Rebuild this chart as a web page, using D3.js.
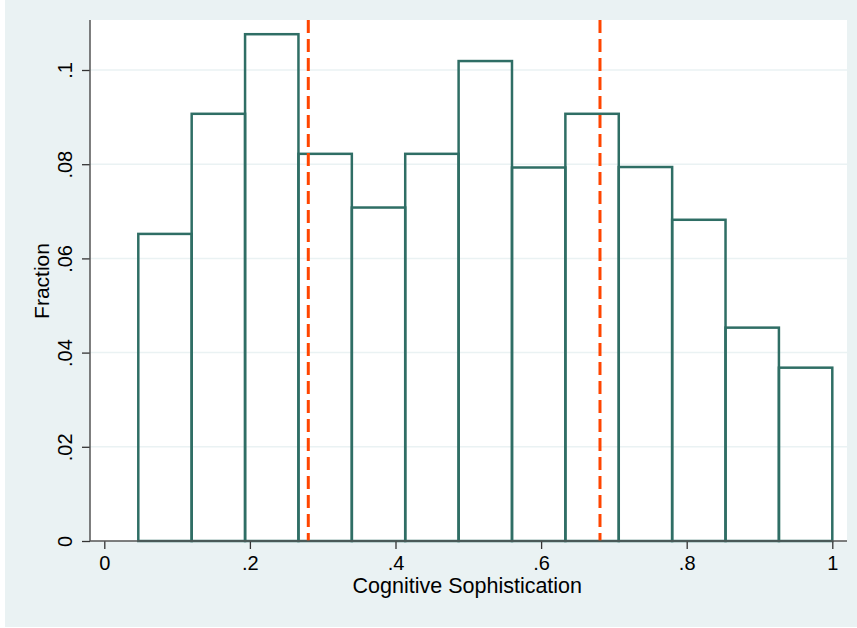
<!DOCTYPE html>
<html>
<head>
<meta charset="utf-8">
<script src="https://cdn.jsdelivr.net/npm/d3@7"></script>
<style>
  html, body { margin: 0; padding: 0; background: #ffffff; }
  svg { display: block; }
  text { font-family: "Liberation Sans", Arial, sans-serif; fill: #000; }
</style>
</head>
<body>
<svg id="chart" width="857" height="628"></svg>
<script>
// ---- data ----
const binStart = 0.0467;          // left edge of first bin
const binEnd = 1.0;               // right edge of last bin
const fractions = [0.0652, 0.0907, 0.1076, 0.0822, 0.0708, 0.0822, 0.1019,
                   0.0793, 0.0907, 0.0794, 0.0682, 0.0453, 0.0368];
const refLines = [0.2802, 0.6809];
const xTicks = [0, 0.2, 0.4, 0.6, 0.8, 1];
const xTickLabels = ["0", ".2", ".4", ".6", ".8", "1"];
const yTicks = [0, 0.02, 0.04, 0.06, 0.08, 0.1];
const yTickLabels = ["0", ".02", ".04", ".06", ".08", ".1"];
const xTitle = "Cognitive Sophistication";
const yTitle = "Fraction";

// ---- layout ----
const svg = d3.select("#chart");
const plot = { left: 90, right: 847, top: 20, bottom: 541 };
const x = d3.scaleLinear().domain([0, 1]).range([104.3, 832.3]);
const y = d3.scaleLinear().domain([0, 0.1]).range([541, 70]);
const binW = (binEnd - binStart) / fractions.length;
const bins = fractions.map((f, i) => ({ x0: binStart + i * binW, x1: binStart + (i + 1) * binW, v: f }));

// outer background
svg.append("rect").attr("x", 5).attr("y", 0).attr("width", 852).attr("height", 627).attr("fill", "#EAF2F3");
// plot region
svg.append("rect").attr("x", plot.left).attr("y", plot.top)
  .attr("width", plot.right - plot.left).attr("height", plot.bottom - plot.top).attr("fill", "#ffffff");

// gridlines
svg.append("g").selectAll("line").data(yTicks.filter(d => d > 0)).join("line")
  .attr("x1", plot.left).attr("x2", plot.right)
  .attr("y1", d => y(d)).attr("y2", d => y(d))
  .attr("stroke", "#EAF2F3").attr("stroke-width", 1.5);

// bars
svg.append("g").selectAll("rect").data(bins).join("rect")
  .attr("x", d => x(d.x0)).attr("width", d => x(d.x1) - x(d.x0))
  .attr("y", d => y(d.v)).attr("height", d => y(0) - y(d.v))
  .attr("fill", "none").attr("stroke", "#2F6E65").attr("stroke-width", 2.5);

// reference lines
svg.append("g").selectAll("line").data(refLines).join("line")
  .attr("x1", d => x(d)).attr("x2", d => x(d))
  .attr("y1", plot.top).attr("y2", plot.bottom)
  .attr("stroke", "#FF4500").attr("stroke-width", 3).attr("stroke-dasharray", "13,6");

// x axis
const xAxis = d3.axisBottom(x).tickValues(xTicks)
  .tickFormat((d, i) => xTickLabels[i]).tickSize(8).tickPadding(4).tickSizeOuter(0);
const gx = svg.append("g").attr("transform", `translate(0,${plot.bottom})`).call(xAxis);
gx.select(".domain").remove();
gx.append("line").attr("x1", plot.left).attr("x2", plot.right).attr("y1", 0).attr("y2", 0)
  .attr("stroke", "#555").attr("stroke-width", 1.5);
gx.selectAll(".tick line").attr("stroke", "#333").attr("stroke-width", 1.3);
gx.selectAll(".tick text").attr("font-size", 20).attr("fill", "#000")
  .attr("y", 28.5).attr("dy", null).attr("font-family", "Liberation Sans, Arial, sans-serif");

// y axis
const yAxis = d3.axisLeft(y).tickValues(yTicks)
  .tickFormat((d, i) => yTickLabels[i]).tickSize(8).tickSizeOuter(0);
const gy = svg.append("g").attr("transform", `translate(${plot.left},0)`).call(yAxis);
gy.select(".domain").remove();
gy.append("line").attr("x1", 0).attr("x2", 0).attr("y1", plot.top).attr("y2", plot.bottom)
  .attr("stroke", "#555").attr("stroke-width", 1.5);
gy.selectAll(".tick line").attr("stroke", "#333").attr("stroke-width", 1.3);
gy.selectAll(".tick text")
  .attr("x", null).attr("dy", null)
  .attr("text-anchor", "middle")
  .attr("transform", "translate(-18,0) rotate(-90)")
  .attr("font-size", 20).attr("fill", "#000")
  .attr("font-family", "Liberation Sans, Arial, sans-serif");

// axis titles
svg.append("text").attr("x", (x(0) + x(1)) / 2 - 1).attr("y", 593)
  .attr("text-anchor", "middle").attr("font-size", 21.5).text(xTitle);
svg.append("text").attr("transform", `translate(49,281) rotate(-90)`)
  .attr("text-anchor", "middle").attr("font-size", 21).text(yTitle);
</script>
</body>
</html>
